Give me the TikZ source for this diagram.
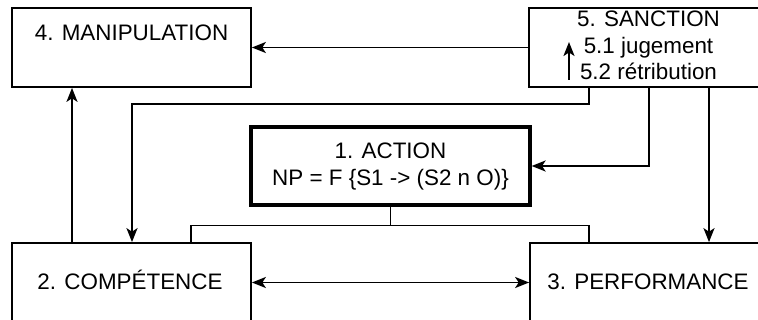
\documentclass[tikz,border=0pt]{standalone}
\usepackage{fontspec}
\setmainfont{Liberation Sans}
\usetikzlibrary{arrows.meta}
\begin{document}
\begin{tikzpicture}[x=1pt,y=-1pt,
  font=\fontsize{22.4}{26.5}\selectfont,
  box/.style={draw,line width=1.7pt,minimum width=239pt,minimum height=79pt,inner sep=0pt},
  actionbox/.style={draw,line width=3.2pt,minimum width=279pt,minimum height=78pt,inner sep=0pt},
  lbl/.style={inner sep=0pt,anchor=base},
  conn/.style={line width=1.7pt},
  tip/.tip={Stealth[length=14pt,width=11pt,inset=3.5pt]},
  arr/.style={conn,-tip},
  biarr/.style={conn,tip-tip}]
\useasboundingbox (0,0) rectangle (758,320);
\clip (0,0) rectangle (758,320);

% boxes
\node[box] (m) at (131.5,47.5) {};
\node[box] (s) at (648.5,47.5) {};
\node[actionbox] (a) at (390.5,166) {};
\node[box] (c) at (131.5,282.5) {};
\node[box] (p) at (649.5,282.5) {};

% texts
\node[lbl] (mt) at (131.5,41) {4. MANIPULATION};
\node[lbl] (st) at (648.5,27) {5. SANCTION};
\node[lbl] (sj) at (648.5,54) {5.1 jugement};
\node[lbl] (sr) at (648.5,80) {5.2 rétribution};
\node[lbl] (at) at (390.5,159) {1. ACTION};
\node[lbl] (af) at (390.5,186) {NP = F \{S1 -> (S2 n O)\}};
\node[lbl] (ct) at (130,290) {2. COMPÉTENCE};
\node[lbl] (pt) at (648,290) {3. PERFORMANCE};

% small arrow from 5.2 up to 5.1
\coordinate (r0) at (569,80);
\coordinate (j0) at (569,42);
\draw[arr] (r0) -- (j0);

% connectors
\draw[arr] (s.west) -- (m.east);
\draw[arr] ([xshift=-59.5]c.north) -- ([xshift=-59.5]m.south);
\draw[arr] ([xshift=-59.5]s.south) -- ++(0,16) -| ([xshift=0.5]c.north);
\draw[arr] ([xshift=0.5]s.south) |- (a.east);
\draw[arr] ([xshift=60.5]s.south) -- ([xshift=59.5]p.north);
\draw[conn] (a.south) -- ++(0,19) coordinate (jn);
\draw[conn] ([xshift=59.5]c.north) |- (jn) -| ([xshift=-60.5]p.north);
\draw[biarr] (c.east) -- (p.west);
\end{tikzpicture}
\end{document}
